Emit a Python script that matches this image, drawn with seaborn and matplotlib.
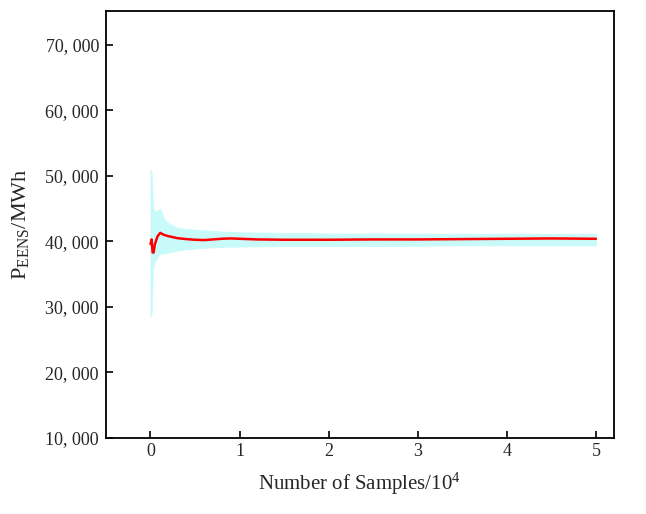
import numpy as np
import pandas as pd
import matplotlib
matplotlib.use("Agg")
import matplotlib.pyplot as plt
from matplotlib.ticker import FuncFormatter
import seaborn as sns

# Data (x in units of 10^4 samples)
samples = [0.0, 0.012, 0.024, 0.035, 0.05, 0.08, 0.11, 0.15, 0.2, 0.3, 0.4, 0.5,
           0.6, 0.7, 0.8, 0.9, 1.0, 1.2, 1.5, 1.8, 2.0, 2.5, 3.0, 3.5, 4.0, 4.5, 5.0]
mean_eens = [39600, 40300, 38300, 38300, 39600, 40800, 41300, 41000, 40800, 40500,
             40350, 40250, 40200, 40300, 40400, 40450, 40400, 40300, 40250, 40250, 40250,
             40300, 40300, 40350, 40400, 40450, 40400]
upper_eens = [51000, 50500, 46500, 45000, 44500, 44700, 45000, 43500, 42800, 42100,
              41900, 41800, 41700, 41600, 41500, 41450, 41400, 41350, 41300, 41250, 41200,
              41200, 41180, 41170, 41170, 41170, 41150]
lower_eens = [28500, 29000, 34500, 36300, 37000, 37700, 38100, 38200, 38300, 38600,
              38800, 38900, 39000, 39100, 39150, 39200, 39200, 39250, 39300, 39300, 39300,
              39300, 39350, 39400, 39400, 39400, 39400]

df = pd.DataFrame({"x": samples, "mean": mean_eens, "lo": lower_eens, "hi": upper_eens})

sns.set_style("ticks")
plt.rcParams["font.family"] = ["Liberation Serif", "DejaVu Serif"]
plt.rcParams["mathtext.fontset"] = "custom"
plt.rcParams["mathtext.rm"] = "Liberation Serif"
plt.rcParams["mathtext.it"] = "Liberation Serif:italic"

fig = plt.figure(figsize=(6.46, 5.14), dpi=100)
ax = fig.add_axes([0.164, 0.148, 0.786, 0.831])

ax.fill_between(df["x"], df["lo"], df["hi"], color="#c8fafa", lw=0.6, edgecolor="#c8fafa")
sns.lineplot(data=df, x="x", y="mean", color="red", lw=1.8, ax=ax)

ax.set_xlim(-0.5, 5.2)
ax.set_ylim(10000, 75200)
ax.set_xticks([0, 1, 2, 3, 4, 5])
ax.set_yticks([10000, 20000, 30000, 40000, 50000, 60000, 70000])
ax.yaxis.set_major_formatter(FuncFormatter(lambda v, p: f"{v:,.0f}".replace(",", ", ")))
ax.tick_params(direction="in", length=5, width=1.2, labelsize=13, color="black")
ax.tick_params(axis="y", pad=5)
for s in ax.spines.values():
    s.set_linewidth(1.3)
    s.set_color("black")

ax.set_xlabel(r"Number of Samples/10$^{4}$", fontsize=15, labelpad=8)
ax.set_ylabel(r"$\mathrm{P_{EENS}}$/MWh", fontsize=16, labelpad=10)

fig.savefig("out.png", dpi=100)
